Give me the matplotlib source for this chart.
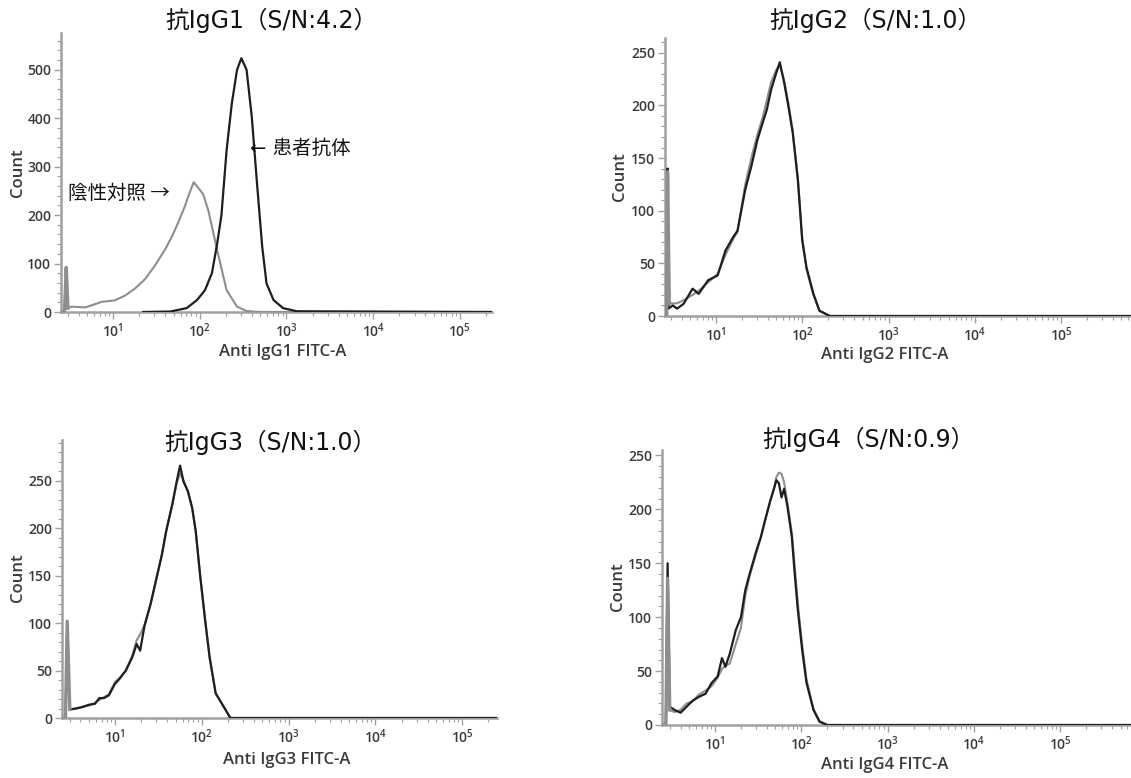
import numpy as np
import matplotlib
matplotlib.use("Agg")
import matplotlib.pyplot as plt
from matplotlib.ticker import FixedLocator, LogLocator, NullFormatter, FuncFormatter, MultipleLocator

plt.rcParams['font.family'] = ['Open Sans', 'Noto Sans CJK JP', 'DejaVu Sans']

# data: x as log10(FITC-A), y as count
titles = ["抗IgG1（S/N:4.2）", "抗IgG2（S/N:1.0）", "抗IgG3（S/N:1.0）", "抗IgG4（S/N:0.9）"]
xlabels = ["Anti IgG1 FITC-A", "Anti IgG2 FITC-A", "Anti IgG3 FITC-A", "Anti IgG4 FITC-A"]

# IgG1
neg1_x = [0.40, 0.44, 0.46, 0.48, 0.52, 0.68, 0.79, 0.87, 1.02, 1.14, 1.25, 1.37, 1.48, 1.60, 1.68,
          1.75, 1.83, 1.87, 1.93, 1.98, 2.04, 2.10, 2.20, 2.31, 2.43, 2.54, 2.70, 5.40]
neg1_y = [0, 0, 92, 8, 11, 9.5, 16, 21, 24, 34, 48, 68, 95, 129, 156,
          184, 219, 240, 268, 257, 243, 209, 128, 45, 11, 2, 0, 0]
pat1_x = [1.35, 1.66, 1.85, 1.97, 2.06, 2.14, 2.20, 2.25, 2.31, 2.37, 2.43, 2.48, 2.54, 2.60,
          2.66, 2.72, 2.77, 2.85, 2.96, 3.12, 5.40]
pat1_y = [0, 1, 8, 25, 45, 80, 140, 200, 335, 431, 500, 524, 500, 403,
          266, 135, 59, 25, 8, 1.5, 0]

# IgG2
neg2_x = [0.41, 0.43, 0.44, 0.46, 0.55, 0.625, 0.73, 0.80, 0.91, 1.02, 1.11, 1.20, 1.25, 1.34, 1.41,
          1.48, 1.54, 1.59, 1.64, 1.70, 1.74, 1.79, 1.84, 1.89, 1.95, 2.00, 2.05, 2.13, 2.20, 2.32, 6.0]
neg2_y = [0, 0, 137, 12, 12, 15, 20, 24, 32, 40, 58, 73, 80, 125, 150,
          172, 188, 205, 222, 234, 238, 224, 202, 176, 130, 74, 44, 20, 5, 0, 0]
pat2_x = [0.41, 0.43, 0.44, 0.45, 0.50, 0.55, 0.625, 0.73, 0.80, 0.91, 1.02, 1.11, 1.20, 1.25, 1.34,
          1.41, 1.48, 1.54, 1.59, 1.64, 1.70, 1.74, 1.79, 1.84, 1.89, 1.95, 2.00, 2.05, 2.13, 2.20, 2.32, 6.0]
pat2_y = [0, 0, 140, 7, 10, 7, 11.5, 26, 21, 34, 38.5, 62, 75, 81, 120,
          142, 167, 183, 196, 215, 231, 241, 222, 199, 174, 129, 72, 46, 21, 5, 0, 0]

# IgG3
neg3_x = [0.39, 0.43, 0.45, 0.48, 0.55, 0.625, 0.70, 0.77, 0.82, 0.875, 0.93, 1.00, 1.05, 1.125, 1.20,
          1.25, 1.29, 1.34, 1.41, 1.48, 1.54, 1.59, 1.66, 1.71, 1.75, 1.79, 1.84, 1.89, 1.93, 1.98,
          2.04, 2.09, 2.16, 2.33, 5.40]
neg3_y = [0, 0, 102, 9, 10, 12, 13, 16, 19, 22, 25, 38, 42, 50, 66,
          82, 88, 98, 120, 148, 172, 197, 225, 247, 258, 250, 239, 221, 197, 151,
          102, 64, 26, 0, 0]
pat3_x = [0.48, 0.55, 0.625, 0.70, 0.77, 0.82, 0.875, 0.93, 1.00, 1.05, 1.125, 1.20,
          1.25, 1.29, 1.34, 1.41, 1.48, 1.54, 1.59, 1.66, 1.71, 1.75, 1.79, 1.84, 1.89, 1.93, 1.98,
          2.04, 2.09, 2.16, 2.33, 5.40]
pat3_y = [9, 10, 11.5, 14, 15, 21, 21, 24, 36, 41, 50, 64,
          78, 71, 97, 120, 148, 172, 197, 225, 249, 266, 249, 239, 221, 197, 151,
          102, 64, 26, 0, 0]

# IgG4
neg4_x = [0.385, 0.43, 0.45, 0.475, 0.53, 0.60, 0.67, 0.74, 0.81, 0.89, 0.96, 1.03, 1.08, 1.12, 1.17,
          1.24, 1.30, 1.35, 1.40, 1.48, 1.53, 1.58, 1.64, 1.69, 1.71, 1.74, 1.77, 1.80, 1.84, 1.89,
          1.92, 1.96, 2.01, 2.06, 2.14, 2.21, 2.30, 6.0]
neg4_y = [0, 0, 136, 14, 12, 14, 20, 22, 28, 32, 36, 44, 52, 55, 57,
          75, 90, 120, 138, 160, 174, 190, 208, 222, 230, 234, 233, 225, 205, 178,
          150, 112, 74, 42, 15, 4, 0, 0]
pat4_x = [0.385, 0.43, 0.45, 0.475, 0.53, 0.60, 0.67, 0.74, 0.81, 0.89, 0.96, 1.03, 1.08, 1.12, 1.17,
          1.24, 1.30, 1.35, 1.40, 1.48, 1.53, 1.58, 1.64, 1.69, 1.71, 1.74, 1.77, 1.80, 1.84, 1.89,
          1.92, 1.96, 2.01, 2.06, 2.14, 2.21, 2.30, 6.0]
pat4_y = [0, 0, 150, 17, 14, 11.4, 17, 22.5, 26, 29, 39, 45, 62, 54, 66,
          88, 100, 125, 140, 162, 174, 190, 208, 221, 227, 224, 211, 219, 202, 174,
          143, 106, 69, 39, 14, 3, 0, 0]

neg = [(neg1_x, neg1_y), (neg2_x, neg2_y), (neg3_x, neg3_y), (neg4_x, neg4_y)]
pat = [(pat1_x, pat1_y), (pat2_x, pat2_y), (pat3_x, pat3_y), (pat4_x, pat4_y)]

W, H = 1131, 778
fig = plt.figure(figsize=(W / 100, H / 100), dpi=100)

# pixel layout: left, right, zero line, top, x-range (log10), y-range, tick steps
layout = [
    (61, 492, 312, 33, (0.40, 5.37), 576, 100, 20),
    (665, 1131, 316, 38, (0.41, 5.81), 264, 50, 10),
    (62, 497, 718, 440, (0.39, 5.40), 293, 50, 10),
    (662, 1131, 725, 450, (0.385, 5.82), 255, 50, 10),
]
title_pos = [(271, 20), (875, 20), (270, 442), (868, 439)]
ylabel_pos = [(18, 173), (620, 177), (18, 578), (618, 587)]
xlabel_pos = [(283, 352), (885, 355), (287, 760), (885, 765)]

axis_col = "#a0a0a0"
text_col = "#3a3a3a"
neg_col = "#8e8e8e"


def dec_fmt(v, pos):
    e = int(round(np.log10(v)))
    return r"$\mathregular{10^{%d}}$" % e


for i, (l, r, y0, yt, xr, ytop, ymaj, ymin) in enumerate(layout):
    ax = fig.add_axes([l / W, (H - y0) / H, (r - l) / W, (y0 - yt) / H])
    nx, ny = neg[i]
    px_, py_ = pat[i]
    nx = 10 ** np.array(nx)
    ax.plot(nx, ny, color=neg_col, lw=1.5, zorder=3)
    ax.plot(10 ** np.array(px_), py_, color="#1e1e1e", lw=1.6, zorder=4)
    # low-end spike of the control drawn on top so the patient tip shows above it
    ax.plot(nx[:4], ny[:4], color=neg_col, lw=2.4, zorder=5)
    ax.set_xscale("log")
    ax.set_xlim(10 ** xr[0], 10 ** xr[1])
    ax.set_ylim(0, ytop)

    ax.xaxis.set_major_locator(FixedLocator([10.0, 100.0, 1e3, 1e4, 1e5]))
    ax.xaxis.set_major_formatter(FuncFormatter(dec_fmt))
    ax.xaxis.set_minor_locator(LogLocator(base=10, subs=np.arange(2, 10), numticks=20))
    ax.xaxis.set_minor_formatter(NullFormatter())
    ax.yaxis.set_major_locator(MultipleLocator(ymaj))
    ax.yaxis.set_minor_locator(MultipleLocator(ymin))

    for s in ["top", "right"]:
        ax.spines[s].set_visible(False)
    for s in ["left", "bottom"]:
        ax.spines[s].set_color(axis_col)
        ax.spines[s].set_linewidth(1.8)
    ax.tick_params(which="major", length=5, width=1.0, color=axis_col, labelcolor=text_col,
                   labelsize=10, pad=2)
    ax.tick_params(which="minor", length=3, width=0.8, color=axis_col)
    for lab in ax.get_xticklabels() + ax.get_yticklabels():
        lab.set_fontweight("semibold")
    ax.set_facecolor("none")

    tx, ty = title_pos[i]
    fig.text(tx / W, 1 - ty / H, titles[i], ha="center", va="center", fontsize=17,
             family=["DejaVu Sans", "Noto Sans CJK JP"], color="#111111")
    lx, ly = ylabel_pos[i]
    fig.text(lx / W, 1 - ly / H, "Count", rotation=90, ha="center", va="center",
             fontsize=12, fontweight="semibold", color=text_col)
    bx, by = xlabel_pos[i]
    fig.text(bx / W, 1 - by / H, xlabels[i], ha="center", va="center",
             fontsize=12, fontweight="semibold", color=text_col)

fig.text(250 / W, 1 - 148 / H, "← 患者抗体", ha="left", va="center", fontsize=14,
         family=["DejaVu Sans", "Noto Sans CJK JP"], color="#111111")
fig.text(68 / W, 1 - 193 / H, "陰性対照 →", ha="left", va="center", fontsize=14,
         family=["Noto Sans CJK JP", "DejaVu Sans"], color="#111111")

fig.savefig("out.png", dpi=100)
